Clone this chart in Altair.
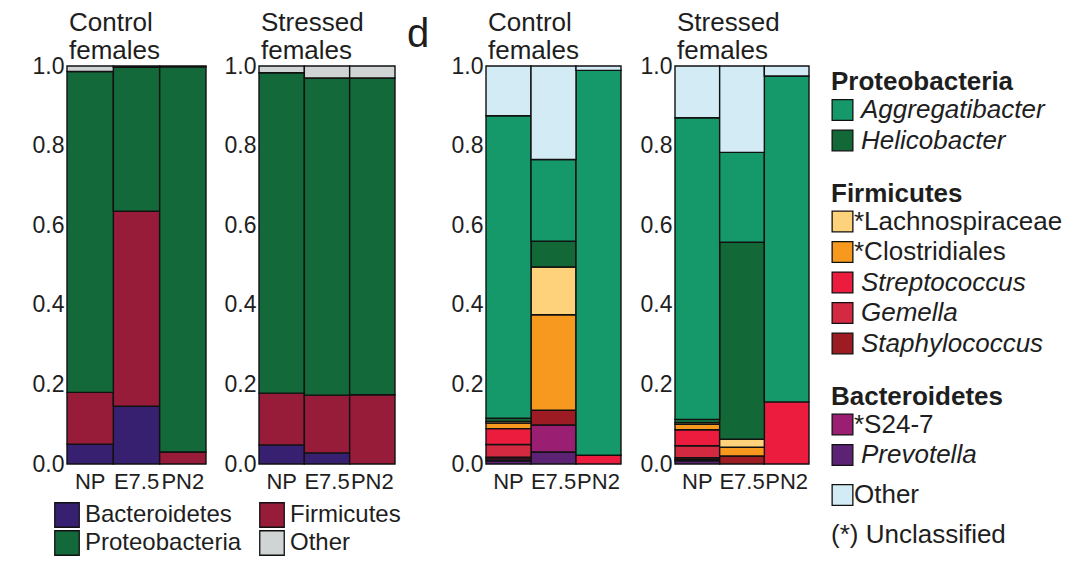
import altair as alt
import pandas as pd

FONT = "Liberation Sans, Arial, Helvetica, sans-serif"
TXT = "#1e1e1e"
EDGE = "#111111"

samples = ["NP", "E7.5", "PN2"]

# ---------- phylum level ----------
phyla = ["Bacteroidetes", "Firmicutes", "Proteobacteria", "Other"]
phylum_colors = ["#382070", "#971c3a", "#14693a", "#d1d4d4"]

ctrl_bacteroidetes = [0.050, 0.145, 0.000]
ctrl_firmicutes = [0.130, 0.490, 0.030]
ctrl_proteobacteria = [0.806, 0.362, 0.968]
ctrl_other_phylum = [0.014, 0.003, 0.002]

str_bacteroidetes = [0.048, 0.028, 0.000]
str_firmicutes = [0.130, 0.145, 0.174]
str_proteobacteria = [0.805, 0.797, 0.796]
str_other_phylum = [0.017, 0.030, 0.030]

# ---------- genus level ----------
genera = ["Aggregatibacter", "Helicobacter", "Lachnospiraceae", "Clostridiales",
          "Streptococcus", "Gemella", "Staphylococcus", "S24-7", "Prevotella", "Other"]
genus_colors = ["#16996a", "#136838", "#fdd27b", "#f7991f", "#ec1c3f",
                "#d32a42", "#9d1c24", "#9a1e72", "#5c2375", "#d3ebf4"]
genus_phylum = ["Proteobacteria", "Proteobacteria", "Firmicutes", "Firmicutes",
                "Firmicutes", "Firmicutes", "Firmicutes", "Bacteroidetes", "Bacteroidetes", ""]
genus_unclassified = [False, False, True, True, False, False, False, True, False, False]
genus_stack = ["Prevotella", "S24-7", "Staphylococcus", "Gemella", "Streptococcus",
               "Clostridiales", "Lachnospiraceae", "Helicobacter", "Aggregatibacter", "Other"]

ctrl_prevotella = [0.008, 0.030, 0.000]
ctrl_s247 = [0.005, 0.068, 0.000]
ctrl_staphylococcus = [0.004, 0.037, 0.000]
ctrl_gemella = [0.032, 0.000, 0.000]
ctrl_streptococcus = [0.040, 0.000, 0.022]
ctrl_clostridiales = [0.014, 0.240, 0.000]
ctrl_lachnospiraceae = [0.004, 0.120, 0.000]
ctrl_helicobacter = [0.008, 0.065, 0.000]
ctrl_aggregatibacter = [0.760, 0.205, 0.967]
ctrl_other_genus = [0.125, 0.235, 0.011]

str_prevotella = [0.008, 0.000, 0.000]
str_s247 = [0.004, 0.000, 0.000]
str_staphylococcus = [0.004, 0.020, 0.000]
str_gemella = [0.030, 0.000, 0.000]
str_streptococcus = [0.040, 0.000, 0.156]
str_clostridiales = [0.014, 0.022, 0.000]
str_lachnospiraceae = [0.004, 0.020, 0.000]
str_helicobacter = [0.008, 0.495, 0.000]
str_aggregatibacter = [0.758, 0.226, 0.819]
str_other_genus = [0.130, 0.217, 0.025]

y_ticks = [0.0, 0.2, 0.4, 0.6, 0.8, 1.0]
PANEL_H = 398


def long_df(series, order_list):
    rows = []
    for taxon, vals in series.items():
        for s, v in zip(samples, vals):
            rows.append({"sample": s, "taxon": taxon, "value": v,
                         "ord": order_list.index(taxon)})
    return pd.DataFrame(rows)


ctrl_phylum_df = long_df({"Bacteroidetes": ctrl_bacteroidetes, "Firmicutes": ctrl_firmicutes,
                          "Proteobacteria": ctrl_proteobacteria, "Other": ctrl_other_phylum}, phyla)
str_phylum_df = long_df({"Bacteroidetes": str_bacteroidetes, "Firmicutes": str_firmicutes,
                         "Proteobacteria": str_proteobacteria, "Other": str_other_phylum}, phyla)

ctrl_genus_df = long_df({"Prevotella": ctrl_prevotella, "S24-7": ctrl_s247,
                         "Staphylococcus": ctrl_staphylococcus, "Gemella": ctrl_gemella,
                         "Streptococcus": ctrl_streptococcus, "Clostridiales": ctrl_clostridiales,
                         "Lachnospiraceae": ctrl_lachnospiraceae, "Helicobacter": ctrl_helicobacter,
                         "Aggregatibacter": ctrl_aggregatibacter, "Other": ctrl_other_genus}, genus_stack)
str_genus_df = long_df({"Prevotella": str_prevotella, "S24-7": str_s247,
                        "Staphylococcus": str_staphylococcus, "Gemella": str_gemella,
                        "Streptococcus": str_streptococcus, "Clostridiales": str_clostridiales,
                        "Lachnospiraceae": str_lachnospiraceae, "Helicobacter": str_helicobacter,
                        "Aggregatibacter": str_aggregatibacter, "Other": str_other_genus}, genus_stack)


def panel(df, title_lines, width, taxa, colors):
    return alt.Chart(
        df,
        title=alt.TitleParams(title_lines, anchor="start", frame="group", fontSize=26,
                              fontWeight="normal", lineHeight=28, offset=-9, color=TXT,
                              font=FONT, dx=2),
    ).transform_filter("datum.value > 0").mark_bar(
        stroke=EDGE, strokeWidth=1.4
    ).encode(
        x=alt.X("sample:N", sort=samples, scale=alt.Scale(paddingInner=0, paddingOuter=0),
                axis=alt.Axis(title=None, labelAngle=0, ticks=False, domain=False,
                              labelFontSize=22, labelPadding=7, labelColor=TXT, labelFont=FONT)),
        y=alt.Y("value:Q", stack="zero", scale=alt.Scale(domain=[0, 1], nice=False),
                axis=alt.Axis(values=y_ticks, format=".1f", ticks=False, domain=False,
                              grid=False, labelFontSize=23, labelPadding=3, labelColor=TXT,
                              labelFont=FONT, title=None)),
        color=alt.Color("taxon:N", scale=alt.Scale(domain=taxa, range=colors), legend=None),
        order=alt.Order("ord:Q", sort="ascending"),
    ).properties(width=width, height=PANEL_H)


p1 = panel(ctrl_phylum_df, ["Control", "females"], 139, phyla, phylum_colors)
p2 = panel(str_phylum_df, ["Stressed", "females"], 136, phyla, phylum_colors)
p3 = panel(ctrl_genus_df, ["Control", "females"], 135, genera, genus_colors)
p4 = panel(str_genus_df, ["Stressed", "females"], 134, genera, genus_colors)

# panel letter
d_chart = alt.Chart(pd.DataFrame({"t": ["d"]})).mark_text(
    fontSize=40, align="left", baseline="alphabetic", font=FONT, color=TXT
).encode(text="t:N", x=alt.value(5), y=alt.value(-19)).properties(width=48, height=PANEL_H)

# ---------- bottom (phylum) legend ----------
leg_b_df = pd.DataFrame({"taxon": phyla,
                         "col": [i % 2 for i in range(len(phyla))],
                         "row": [i // 2 for i in range(len(phyla))]})
leg_b_base = alt.Chart(leg_b_df).encode(
    x=alt.X("col:Q", axis=None, scale=alt.Scale(domain=[0, 1], range=[0, 205])),
    y=alt.Y("row:Q", axis=None, scale=alt.Scale(domain=[0, 1], range=[15, 43])),
)
leg_b_sq = leg_b_base.mark_square(size=600, stroke=EDGE, strokeWidth=1.3, opacity=1).encode(
    color=alt.Color("taxon:N", scale=alt.Scale(domain=phyla, range=phylum_colors), legend=None))
leg_b_tx = leg_b_base.mark_text(align="left", baseline="middle", dx=18, fontSize=24,
                                font=FONT, color=TXT).encode(text="taxon:N")
leg_bottom = (leg_b_sq + leg_b_tx).properties(width=250, height=44)

# ---------- right (genus) legend ----------
rows = []
pos = 16.0
prev_kind = None
for grp in ["Proteobacteria", "Firmicutes", "Bacteroidetes"]:
    if prev_kind is not None:
        pos += 53
    rows.append({"label": grp, "kind": "header", "taxon": "", "pos": pos})
    prev_kind = "header"
    for g, ph, unc in zip(genera, genus_phylum, genus_unclassified):
        if ph != grp:
            continue
        pos += 28 if prev_kind == "header" else 30.5
        rows.append({"label": ("*" + g) if unc else g,
                     "kind": "plain" if unc else "italic", "taxon": g, "pos": pos})
        prev_kind = "item"
pos += 40
rows.append({"label": "Other", "kind": "plain", "taxon": "Other", "pos": pos})
pos += 40
rows.append({"label": "(*) Unclassified", "kind": "note", "taxon": "", "pos": pos})
leg_r_df = pd.DataFrame(rows)

LEG_H = 470
LEG_FS = 26
LX = 17  # horizontal offset of the legend block inside its cell
leg_r_base = alt.Chart(leg_r_df).encode(
    y=alt.Y("pos:Q", axis=None, scale=alt.Scale(domain=[0, LEG_H], reverse=True)))
leg_r_sq = leg_r_base.transform_filter("datum.kind == 'plain' || datum.kind == 'italic'").mark_square(
    size=430, stroke=EDGE, strokeWidth=1.3, opacity=1).encode(
    x=alt.value(LX + 14.5),
    color=alt.Color("taxon:N", scale=alt.Scale(domain=genera, range=genus_colors), legend=None))
leg_r_head = leg_r_base.transform_filter("datum.kind == 'header'").mark_text(
    align="left", baseline="middle", fontSize=LEG_FS, fontWeight="bold", font=FONT, color=TXT).encode(
    x=alt.value(LX + 3), text="label:N")
leg_r_ital = leg_r_base.transform_filter("datum.kind == 'italic'").mark_text(
    align="left", baseline="middle", fontSize=LEG_FS, fontStyle="italic", font=FONT, color=TXT).encode(
    x=alt.value(LX + 33), text="label:N")
leg_r_plain = leg_r_base.transform_filter("datum.kind == 'plain'").mark_text(
    align="left", baseline="middle", fontSize=LEG_FS, font=FONT, color=TXT).encode(
    x=alt.value(LX + 26), text="label:N")
leg_r_note = leg_r_base.transform_filter("datum.kind == 'note'").mark_text(
    align="left", baseline="middle", fontSize=LEG_FS, font=FONT, color=TXT).encode(
    x=alt.value(LX + 3), text="label:N")
leg_right = (leg_r_sq + leg_r_head + leg_r_ital + leg_r_plain + leg_r_note).properties(
    width=230, height=LEG_H)

left = alt.vconcat(alt.hconcat(p1, p2, spacing=17), leg_bottom, spacing=8)
right = alt.hconcat(p3, p4, spacing=18)

chart = alt.hconcat(left, d_chart, right, leg_right, spacing=1).resolve_scale(
    color="independent"
).properties(
    padding={"left": 24, "top": 2, "right": 0, "bottom": 0}
).configure_view(stroke=None)

chart.save("out.html", embed_options={"renderer": "svg", "actions": False})
